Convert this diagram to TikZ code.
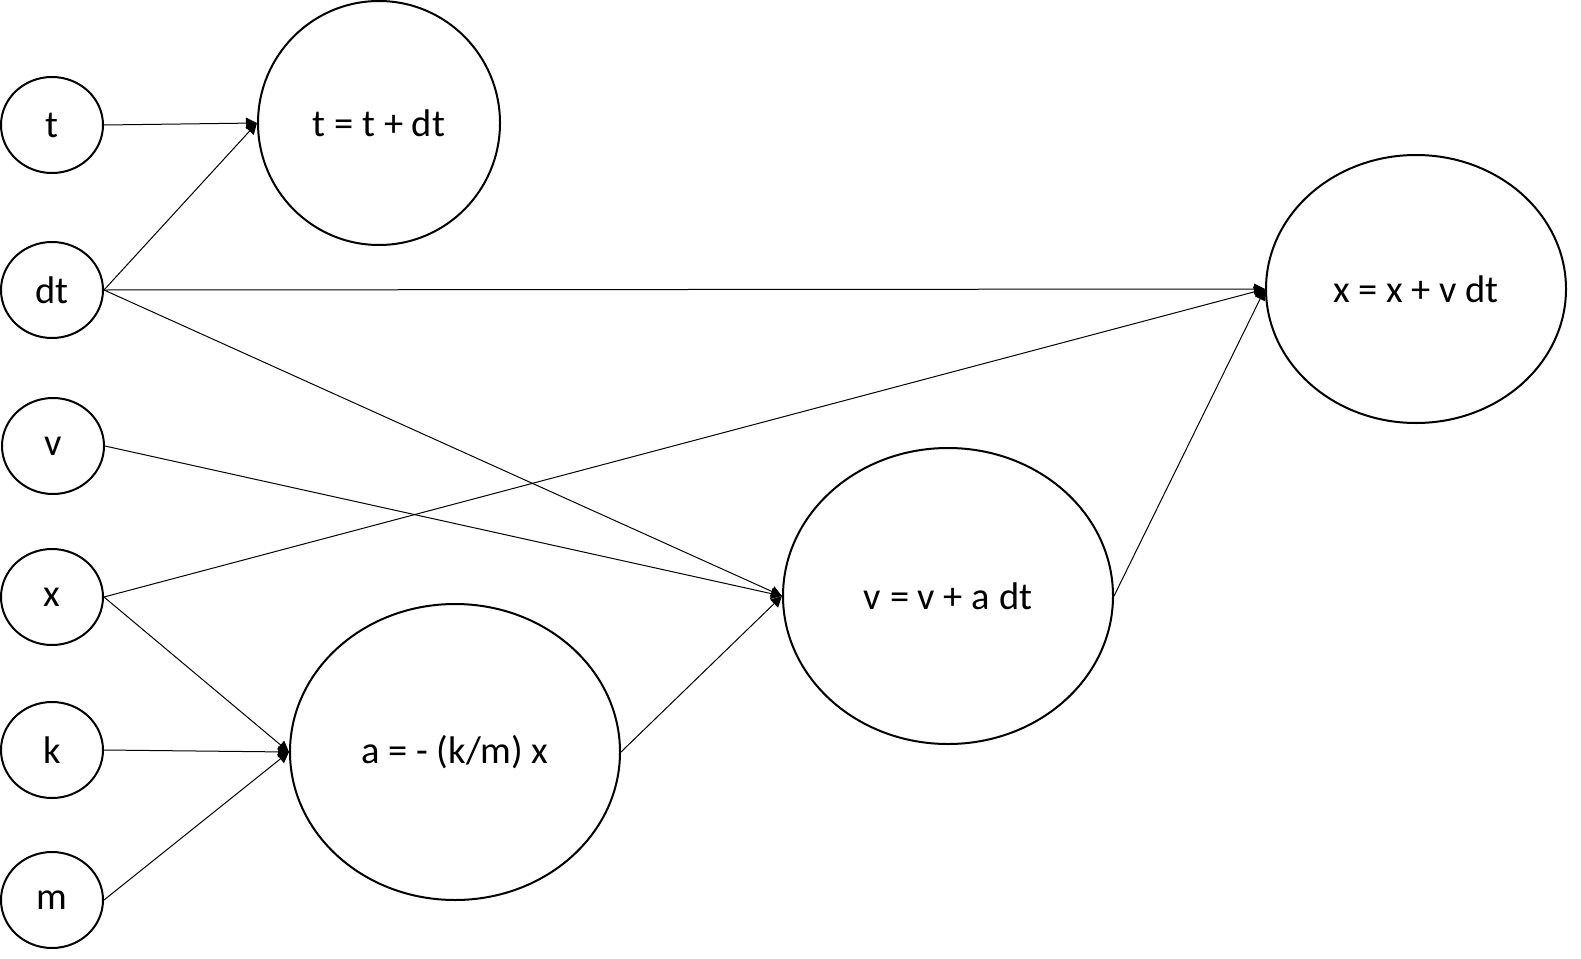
\documentclass[tikz,border=0pt]{standalone}
\usepackage{fontspec}
\setmainfont{Carlito}
\usetikzlibrary{shapes.geometric,arrows.meta}
\begin{document}
\begin{tikzpicture}[x=1pt,y=-1pt,
  every node/.style={font=\fontsize{38.5}{46}\selectfont},
  oval/.style={draw, ellipse, line width=2pt, inner sep=0pt},
  small/.style={oval, minimum width=102pt, minimum height=96pt},
  conn/.style={line width=1pt, -{Triangle[length=11pt,width=11pt]}}]
\useasboundingbox (0,0) rectangle (1581,958);
\node[small] (t) at (52,125) {t};
\node[small] (dt) at (52,290) {dt};
\node[small] (v) at (53,446) {v};
\node[small] (x) at (52,597) {x};
\node[small] (k) at (52,750) {k};
\node[small] (m) at (52,900) {m};
\node[oval, minimum width=242pt, minimum height=244pt] (T) at (379,123) {t = t + dt};
\node[oval, minimum width=300pt, minimum height=268pt] (X) at (1416,289) {x = x + v dt};
\node[oval, minimum width=330pt, minimum height=296pt] (V) at (948,596) {v = v + a dt};
\node[oval, minimum width=330pt, minimum height=296pt] (A) at (455,752) {a = - (k/m) x};
\draw[conn] (t.east) -- (T.west);
\draw[conn] (dt.east) -- (T.west);
\draw[conn] (dt.east) -- (X.west);
\draw[conn] (dt.east) -- (V.west);
\draw[conn] (v.east) -- (V.west);
\draw[conn] (x.east) -- (X.west);
\draw[conn] (x.east) -- (A.west);
\draw[conn] (k.east) -- (A.west);
\draw[conn] (m.east) -- (A.west);
\draw[conn] (A.east) -- (V.west);
\draw[conn] (V.east) -- (X.west);
\end{tikzpicture}
\end{document}
